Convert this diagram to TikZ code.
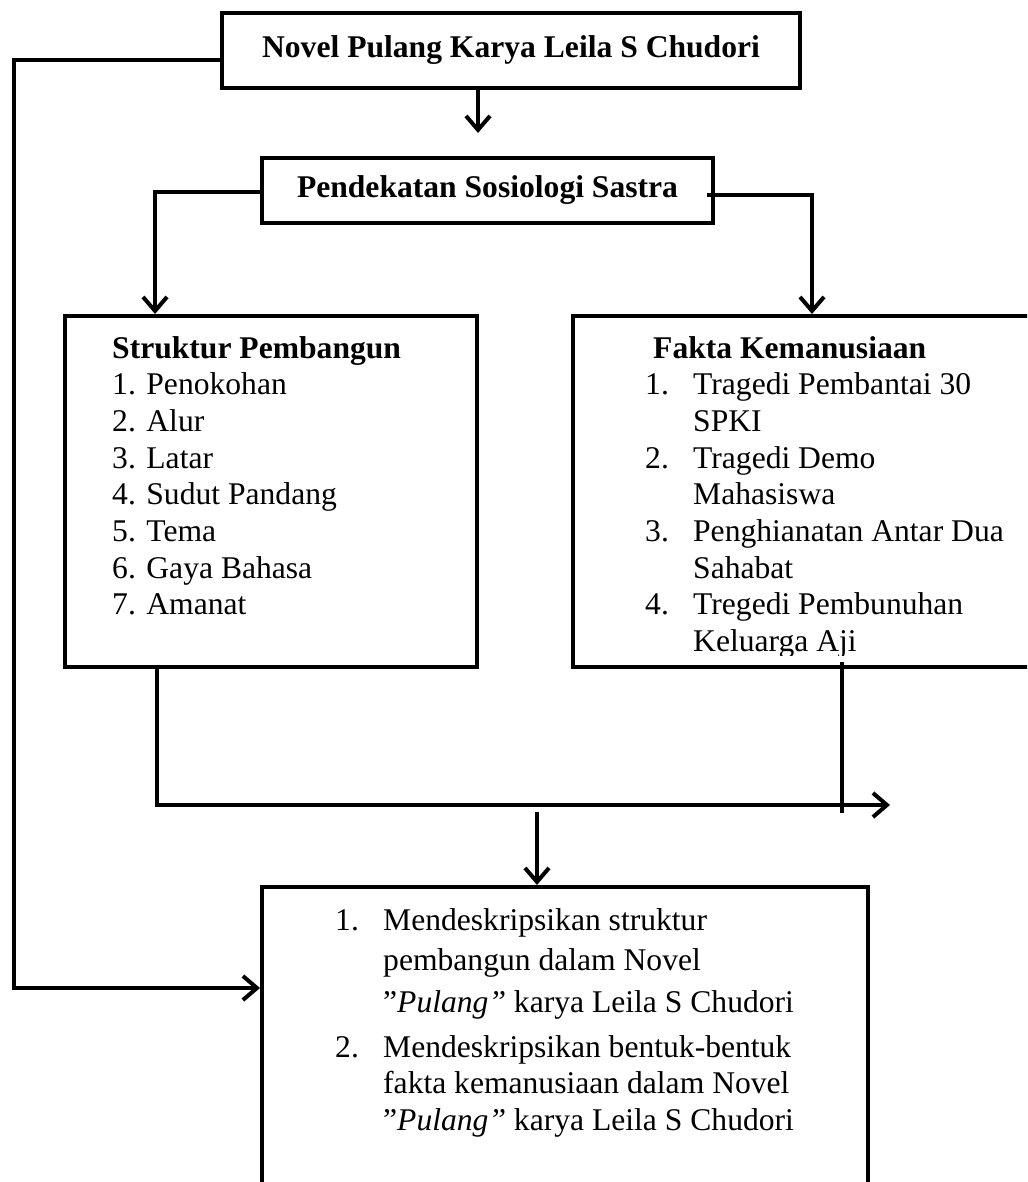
\documentclass[tikz,border=0pt]{standalone}
\usepackage{fontspec}
\setmainfont{Liberation Serif}
\usetikzlibrary{arrows.meta}
\newcommand{\ukuran}{\fontsize{31.6}{36.7}\selectfont}
\newcommand{\btr}[2]{\makebox[48pt][l]{#1}#2}
\newcommand{\lnj}[1]{\hspace*{48pt}#1}
\tikzset{
	garis/.style={line width=4pt},
	kotak/.style={draw, line width=4pt, inner sep=0pt, font=\ukuran},
	panah/.style={garis, -{Straight Barb[length=14pt,width=24pt]}},
	teks/.style={anchor=base west, inner sep=0pt, font=\ukuran}
}

\begin{document}
\begin{tikzpicture}[x=1pt,y=-1pt]
	\clip (0,0) rectangle (1027,1182);
	% kotak-kotak
	\node[kotak, minimum width=578pt, minimum height=75pt] (novel) at (511,50.5)
		{\textbf{Novel Pulang Karya Leila S Chudori}};
	\node[kotak, minimum width=451pt, minimum height=65pt] (pendekatan) at (487.5,190.5)
		{\textbf{Pendekatan Sosiologi Sastra}};
	\node[kotak, minimum width=412pt, minimum height=351pt] (struktur) at (271,491.5) {};
	\node[kotak, minimum width=470pt, minimum height=351pt] (fakta) at (808,491.5) {};
	\node[kotak, minimum width=606pt, minimum height=342pt] (tujuan) at (565,1058) {};
	% isi kotak
	\node[teks] (struktxt) at (112,358) {\parbox[t]{350pt}{%
		\textbf{Struktur Pembangun}\\
		1. Penokohan\\
		2. Alur\\
		3. Latar\\
		4. Sudut Pandang\\
		5. Tema\\
		6. Gaya Bahasa\\
		7. Amanat}};
	\begin{scope}
		\clip (573,316) rectangle (1027,655);
		\node[teks] (faktxt) at (645,358) {\parbox[t]{400pt}{%
			\hspace*{8pt}\textbf{Fakta Kemanusiaan}\\
			\btr{1.}{Tragedi Pembantai 30}\\
			\lnj{SPKI}\\
			\btr{2.}{Tragedi Demo}\\
			\lnj{Mahasiswa}\\
			\btr{3.}{Penghianatan Antar Dua}\\
			\lnj{Sahabat}\\
			\btr{4.}{Tregedi Pembunuhan}\\
			\lnj{Keluarga Aji}}};
	\end{scope}
	\node[teks] (tujtxt) at (335,930) {\parbox[t]{520pt}{%
		\btr{1.}{Mendeskripsikan struktur}\\[4pt]
		\lnj{pembangun dalam Novel}\\[5pt]
		\lnj{”\textit{Pulang”} karya Leila S Chudori}\\[8pt]
		\btr{2.}{Mendeskripsikan bentuk-bentuk}\\
		\lnj{fakta kemanusiaan dalam Novel}\\
		\lnj{”\textit{Pulang”} karya Leila S Chudori}}};
	% garis dan panah
	\coordinate (kiriatas) at (14,60);
	\coordinate (kiribawah) at (14,988);
	\draw[panah] ([yshift=-9.5pt]novel.west) -- (kiriatas) -- (kiribawah) -- (kiribawah -| tujuan.west);
	\coordinate (ujung1) at (478,133);
	\draw[panah] (novel.south -| ujung1) -- (ujung1);
	\coordinate (pkiri) at (155,0);
	\coordinate (pkanan) at (812,0);
	\draw[panah] ([yshift=-1.5pt]pendekatan.west) -| (struktur.north -| pkiri);
	\draw[panah] ([xshift=-8pt,yshift=-4.5pt]pendekatan.east) -| (fakta.north -| pkanan);
	\coordinate (gabung) at (157,805);
	\coordinate (ujung2) at (890,805);
	\draw[panah] (struktur.south -| gabung) -- (gabung) -- (ujung2);
	\coordinate (fbawah) at (842,813);
	\draw[garis] ([yshift=7pt]fakta.south -| fbawah) -- (fbawah);
	\coordinate (turun) at (537,812);
	\draw[panah] (turun) -- (turun |- tujuan.north);
\end{tikzpicture}
\end{document}
